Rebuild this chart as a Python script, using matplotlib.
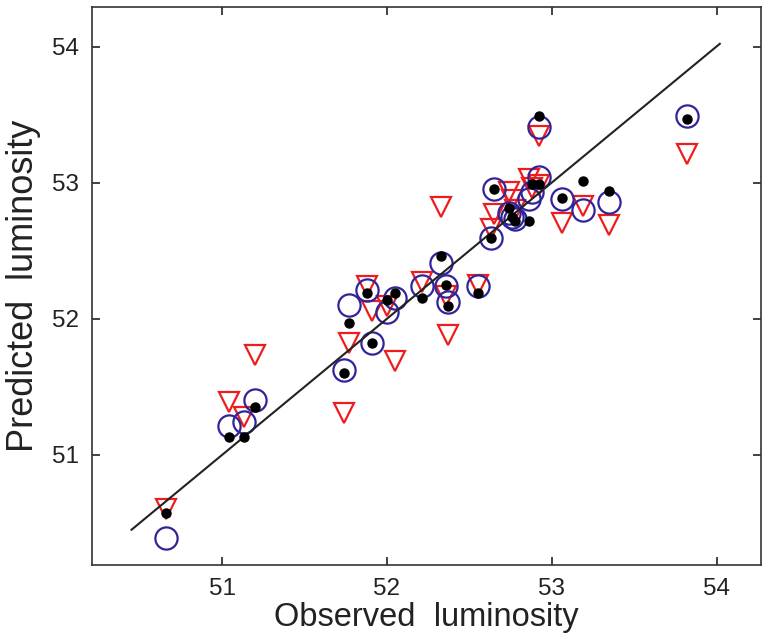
import numpy as np
import matplotlib
matplotlib.use("Agg")
import matplotlib.pyplot as plt

plt.rcParams['font.family'] = ['Liberation Sans', 'DejaVu Sans']

# observed luminosity (x) and three sets of predictions
observed = [50.66, 51.04, 51.13, 51.20, 51.74, 51.77, 51.88, 51.91, 52.00, 52.05,
            52.21, 52.33, 52.36, 52.37, 52.55, 52.63, 52.65, 52.74, 52.76, 52.78,
            52.86, 52.88, 52.92, 52.92, 53.06, 53.19, 53.35, 53.82]
pred_dot = [50.57, 51.13, 51.13, 51.35, 51.60, 51.97, 52.19, 51.82, 52.14, 52.19,
            52.15, 52.46, 52.25, 52.09, 52.19, 52.59, 52.95, 52.81, 52.75, 52.72,
            52.72, 52.99, 52.99, 53.49, 52.89, 53.01, 52.94, 53.47]
pred_circ = [50.39, 51.21, 51.24, 51.40, 51.62, 52.10, 52.21, 51.82, 52.05, 52.15,
             52.24, 52.41, 52.24, 52.12, 52.24, 52.59, 52.95, 52.78, 52.75, 52.73,
             52.88, 52.93, 53.04, 53.41, 52.88, 52.80, 52.86, 53.49]
pred_tri = [50.60, 51.39, 51.28, 51.73, 51.31, 51.82, 52.24, 52.06, 52.09, 51.69,
            52.27, 52.82, 52.17, 51.88, 52.25, 52.66, 52.77, 52.93, 52.87, 52.80,
            53.03, 52.96, 52.98, 53.34, 52.70, 52.83, 52.69, 53.21]
line_x = [50.45, 54.02]
ticks = [51, 52, 53, 54]

fig = plt.figure(figsize=(7.62, 6.40), dpi=100)
ax = fig.add_axes([0.1207, 0.117, 0.8780, 0.872])

ax.plot(observed, pred_tri, 'v', ms=15, mfc='none', mec='#ee1c1c', mew=1.6, ls='none')
ax.plot(observed, pred_circ, 'o', ms=16, mfc='none', mec='#30249a', mew=1.6, ls='none')
ax.plot(line_x, line_x, '-', color='#222222', lw=1.5)
ax.plot(observed, pred_dot, 'o', ms=6.5, color='black', ls='none')

ax.set_xlim(50.21, 54.27)
ax.set_ylim(50.19, 54.29)
ax.set_xticks(ticks)
ax.set_yticks(ticks)
ax.tick_params(direction='in', top=True, right=True, length=6, width=1.2,
               labelsize=17.5, pad=9, colors='#222222')
for s in ax.spines.values():
    s.set_linewidth(1.2)
    s.set_color('#333333')

ax.set_xlabel('Observed  luminosity', fontsize=23.5, color='#222222', labelpad=2)
ax.set_ylabel('Predicted  luminosity', fontsize=26, color='#222222', labelpad=8)

fig.savefig('out.png', dpi=100)
